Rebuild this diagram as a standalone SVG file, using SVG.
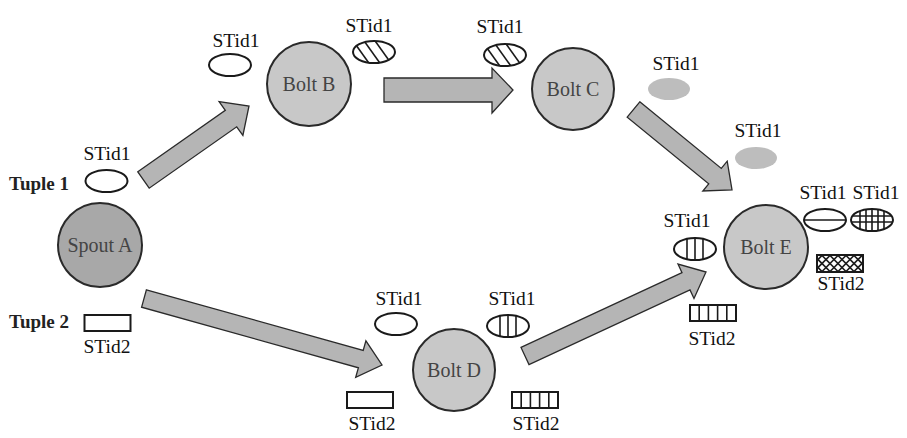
<svg xmlns="http://www.w3.org/2000/svg" xmlns:xlink="http://www.w3.org/1999/xlink" width="907" height="438" viewBox="0 0 907 438">
<style>
.lbl{font-family:"Liberation Serif","Times New Roman",serif;font-size:19.5px;fill:#111;text-anchor:middle}
.tup{font-family:"Liberation Serif","Times New Roman",serif;font-size:19px;font-weight:bold;fill:#222}
.nl{font-family:"Liberation Serif","Times New Roman",serif;font-size:20px;fill:#444;text-anchor:middle}
.bolt{fill:#c8c8c8;stroke:#2a2a2a;stroke-width:2}
.spout{fill:#a8a8a8;stroke:#2a2a2a;stroke-width:2}
.arr{fill:#b5b5b5;stroke:#2a2a2a;stroke-width:1.3;stroke-linejoin:miter}
.tok{fill:none;stroke:#1a1a1a;stroke-width:2}
.tokw{fill:#fff;stroke:#1a1a1a;stroke-width:2}
.hl{stroke:#1a1a1a;stroke-width:1.6}
.gray{fill:#bdbdbd}
</style>
<defs>
<clipPath id="ce"><ellipse rx="21" ry="11"/></clipPath>
<clipPath id="cr"><rect x="-23" y="-8.5" width="46" height="17"/></clipPath>
<g id="eEmpty"><ellipse class="tokw" rx="21" ry="11"/></g>
<g id="eDiag"><ellipse fill="#fff" rx="21" ry="11"/><g clip-path="url(#ce)" class="hl" stroke-width="1.8"><line x1="-23" y1="-14" x2="-3" y2="14"/><line x1="-12" y1="-14" x2="8" y2="14"/><line x1="-1" y1="-14" x2="19" y2="14"/></g><ellipse class="tok" rx="21" ry="11"/></g>
<g id="eV"><ellipse fill="#fff" rx="21" ry="11"/><g class="hl"><line x1="-8" y1="-11" x2="-8" y2="11"/><line x1="0" y1="-11" x2="0" y2="11"/><line x1="8" y1="-11" x2="8" y2="11"/></g><ellipse class="tok" rx="21" ry="11"/></g>
<g id="eH"><ellipse fill="#fff" rx="21" ry="11"/><line class="hl" x1="-21" y1="0" x2="21" y2="0"/><ellipse class="tok" rx="21" ry="11"/></g>
<g id="eGrid"><ellipse fill="#fff" rx="21" ry="11"/><g clip-path="url(#ce)" class="hl" stroke-width="1.3"><line x1="-12" y1="-12" x2="-12" y2="12"/><line x1="-6" y1="-12" x2="-6" y2="12"/><line x1="0" y1="-12" x2="0" y2="12"/><line x1="6" y1="-12" x2="6" y2="12"/><line x1="12" y1="-12" x2="12" y2="12"/><line x1="-22" y1="-4" x2="22" y2="-4"/><line x1="-22" y1="2" x2="22" y2="2"/></g><ellipse class="tok" rx="21" ry="11"/></g>
<g id="rEmpty"><rect class="tokw" x="-23" y="-8" width="46" height="16"/></g>
<g id="rV"><rect fill="#fff" x="-23" y="-8" width="46" height="16"/><g class="hl"><line x1="-13.8" y1="-8" x2="-13.8" y2="8"/><line x1="-4.6" y1="-8" x2="-4.6" y2="8"/><line x1="4.6" y1="-8" x2="4.6" y2="8"/><line x1="13.8" y1="-8" x2="13.8" y2="8"/></g><rect class="tok" x="-23" y="-8" width="46" height="16"/></g>
<g id="rX"><rect fill="#fff" x="-23" y="-8.5" width="46" height="17"/><g clip-path="url(#cr)" class="hl" stroke-width="1.2"><line x1="-35" y1="-9" x2="-17" y2="9"/><line x1="-27" y1="-9" x2="-9" y2="9"/><line x1="-19" y1="-9" x2="-1" y2="9"/><line x1="-11" y1="-9" x2="7" y2="9"/><line x1="-3" y1="-9" x2="15" y2="9"/><line x1="5" y1="-9" x2="23" y2="9"/><line x1="13" y1="-9" x2="31" y2="9"/><line x1="21" y1="-9" x2="39" y2="9"/><line x1="-35" y1="9" x2="-17" y2="-9"/><line x1="-27" y1="9" x2="-9" y2="-9"/><line x1="-19" y1="9" x2="-1" y2="-9"/><line x1="-11" y1="9" x2="7" y2="-9"/><line x1="-3" y1="9" x2="15" y2="-9"/><line x1="5" y1="9" x2="23" y2="-9"/><line x1="13" y1="9" x2="31" y2="-9"/><line x1="21" y1="9" x2="39" y2="-9"/></g><rect class="tok" x="-23" y="-8.5" width="46" height="17"/></g>
</defs>
<rect width="907" height="438" fill="#fff"/>

<g id="connectors">
<polygon class="arr" points="137.8,171.8 225.3,110.4 219.1,101.7 249,106 242.9,135.5 236.7,126.8 149.2,188.2"/>
<polygon class="arr" points="146.4,289.8 363.2,350.4 365.9,340.8 382,365 355.7,377.4 358.4,367.8 141.6,307.2"/>
<polygon class="arr" points="384,78 492,78 492,68 513,90 492,113 492,102 384,102"/>
<polygon class="arr" points="639.8,101.8 721.3,168.4 727.2,161.2 732,190 702.8,191 708.7,183.8 627.2,117.2"/>
<polygon class="arr" points="521,347.4 682,272.7 678,264.1 706,272 694,298.5 690,289.9 529,364.6"/>
</g>

<g id="spoutA">
<circle class="spout" cx="100" cy="245" r="42"/>
<text class="nl" x="100" y="252" font-size="21">Spout A</text>
<text class="tup" x="9" y="190">Tuple 1</text>
<text class="lbl" x="107" y="160">STid1</text>
<use href="#eEmpty" x="106.5" y="181"/>
<text class="tup" x="9" y="328">Tuple 2</text>
<use href="#rEmpty" x="107.5" y="323"/>
<text class="lbl" x="107" y="353">STid2</text>
</g>

<g id="boltB">
<circle class="bolt" cx="309" cy="84" r="42"/>
<text class="nl" x="309" y="91">Bolt B</text>
<text class="lbl" x="236" y="47">STid1</text>
<use href="#eEmpty" x="230" y="65"/>
<text class="lbl" x="369" y="32">STid1</text>
<use href="#eDiag" x="374" y="52"/>
</g>

<g id="boltC">
<circle class="bolt" cx="573" cy="89" r="41"/>
<text class="nl" x="573" y="96">Bolt C</text>
<text class="lbl" x="500" y="33">STid1</text>
<use href="#eDiag" x="505" y="55"/>
<text class="lbl" x="676" y="70">STid1</text>
<ellipse class="gray" cx="669" cy="89" rx="21" ry="11"/>
<text class="lbl" x="758" y="137">STid1</text>
<ellipse class="gray" cx="756" cy="158" rx="21" ry="11"/>
</g>

<g id="boltD">
<circle class="bolt" cx="454" cy="370" r="41"/>
<text class="nl" x="454" y="377">Bolt D</text>
<text class="lbl" x="399" y="305">STid1</text>
<use href="#eEmpty" x="396" y="324"/>
<text class="lbl" x="512" y="305">STid1</text>
<use href="#eV" x="508" y="326"/>
<use href="#rEmpty" x="370" y="400"/>
<text class="lbl" x="372" y="430">STid2</text>
<use href="#rV" x="535" y="400"/>
<text class="lbl" x="536" y="430">STid2</text>
</g>

<g id="boltE">
<circle class="bolt" cx="766" cy="247" r="42"/>
<text class="nl" x="766" y="254">Bolt E</text>
<text class="lbl" x="687" y="227">STid1</text>
<use href="#eV" x="695" y="249"/>
<use href="#rV" x="713" y="313"/>
<text class="lbl" x="712" y="345">STid2</text>
<text class="lbl" x="823" y="199">STid1</text>
<use href="#eH" x="825" y="220"/>
<text class="lbl" x="876" y="199">STid1</text>
<use href="#eGrid" x="872" y="220"/>
<use href="#rX" x="840" y="263.5"/>
<text class="lbl" x="841" y="290">STid2</text>
</g>
</svg>
